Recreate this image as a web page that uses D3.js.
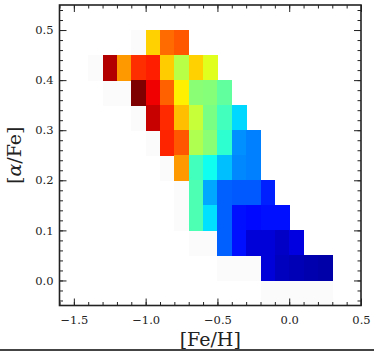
<!DOCTYPE html>
<html>
<head>
<meta charset="utf-8">
<script src="https://cdn.jsdelivr.net/npm/d3@7"></script>
<style>
  body { margin: 0; background: #fff; }
  text { font-family: "DejaVu Serif", "Liberation Serif", serif; fill: #222; }
</style>
</head>
<body>
<svg width="374" height="351"></svg>
<script>
// [Fe/H] bin left edges, [alpha/Fe] bin bottom edges
const fehBins = [-1.4, -1.3, -1.2, -1.1, -1.0, -0.9, -0.8, -0.7, -0.6, -0.5, -0.4, -0.3, -0.2, -0.1, 0.0, 0.1, 0.2];
const afeBins = [0.45, 0.40, 0.35, 0.30, 0.25, 0.20, 0.15, 0.10, 0.05, 0.00, -0.05];

// normalised colour value per bin (null = empty), rows follow afeBins
const binValues = [
  [null, null, null, null, 0.67, 0.77, 0.79, null, null, null, null, null, null, null, null, null, null],
  [null, 0.95, 0.725, 0.83, 0.845, 0.675, 0.555, 0.67, 0.595, null, null, null, null, null, null, null, null],
  [null, null, null, 1.0, 0.89, 0.78, 0.64, 0.51, 0.505, 0.47, null, null, null, null, null, null, null],
  [null, null, null, null, 0.93, 0.834, 0.6875, 0.57, 0.495, 0.44, 0.337, null, null, null, null, null, null],
  [null, null, null, null, null, 0.84, 0.79, 0.547, 0.51, 0.42, 0.266, 0.25, null, null, null, null, null],
  [null, null, null, null, null, null, 0.725, 0.44, 0.39, 0.3125, 0.258, 0.25, null, null, null, null, null],
  [null, null, null, null, null, null, null, 0.45, 0.29, 0.219, 0.211, 0.211, 0.156, null, null, null, null],
  [null, null, null, null, null, null, null, 0.45, 0.345, 0.219, 0.14, 0.133, 0.14, 0.14, null, null, null],
  [null, null, null, null, null, null, null, null, null, 0.219, 0.14, 0.087, 0.087, 0.07, 0.095, null, null],
  [null, null, null, null, null, null, null, null, null, null, null, null, 0.087, 0.0625, 0.055, 0.047, 0.04],
  [null, null, null, null, null, null, null, null, null, null, null, null, null, null, null, null, null]
];

// barely populated bins drawn almost white: [feh, afe]
const sparseBins = [
  [-1.1, 0.45], [-1.4, 0.40], [-1.3, 0.35], [-1.2, 0.35], [-1.1, 0.30], [-1.0, 0.25],
  [-0.9, 0.20], [-0.8, 0.15], [-0.8, 0.10], [-0.7, 0.05], [-0.6, 0.05],
  [-0.5, 0.00], [-0.4, 0.00], [-0.3, 0.00],
  [-0.2, -0.05], [-0.1, -0.05], [0.0, -0.05], [0.1, -0.05], [0.2, -0.05]
];

const xTicks = [-1.5, -1.0, -0.5, 0.0, 0.5];
const yTicks = [0.0, 0.1, 0.2, 0.3, 0.4, 0.5];

const svg = d3.select("svg");
const padL = 59.5, padR = 361, padT = 5, padB = 305.5;

const x = d3.scaleLinear().domain([-1.6, 0.5]).range([padL, padR]);
const y = d3.scaleLinear().domain([-0.05, 0.55]).range([padB, padT]);

// jet colormap
const jet = d3.scaleLinear()
  .domain([0, 0.125, 0.375, 0.625, 0.875, 1])
  .range(["#00007f", "#0000ff", "#00ffff", "#ffff00", "#ff0000", "#7f0000"])
  .clamp(true);

const cells = [];
afeBins.forEach((a, i) => {
  fehBins.forEach((f, j) => {
    const v = binValues[i][j];
    if (v !== null) cells.push({ f, a, v });
  });
});

const g = svg.append("g").attr("shape-rendering", "crispEdges");

g.selectAll("rect.sparse")
  .data(sparseBins)
  .join("rect")
  .attr("class", "sparse")
  .attr("x", d => x(d[0]))
  .attr("y", d => y(d[1] + 0.05))
  .attr("width", d => x(d[0] + 0.1) - x(d[0]) + 0.5)
  .attr("height", d => y(d[1]) - y(d[1] + 0.05) + 0.5)
  .attr("fill", "#fbfbfb");

g.selectAll("rect.cell")
  .data(cells)
  .join("rect")
  .attr("class", "cell")
  .attr("x", d => x(d.f))
  .attr("y", d => y(d.a + 0.05))
  .attr("width", d => x(d.f + 0.1) - x(d.f) + 0.5)
  .attr("height", d => y(d.a) - y(d.a + 0.05) + 0.5)
  .attr("fill", d => jet(d.v));

// axes, ticks pointing inward on all four sides
const xMinor = d3.range(-1.6, 0.51, 0.1).map(v => +v.toFixed(2));
const yMinor = d3.range(-0.04, 0.55, 0.02).map(v => +v.toFixed(2));
const fmt = d3.format(".1f");

const axB = d3.axisBottom(x).tickValues(xTicks).tickSize(-7).tickPadding(10).tickFormat(d => fmt(d).replace("-", "\u2212"));
const axBm = d3.axisBottom(x).tickValues(xMinor).tickSize(-3.5).tickFormat("");
const axT = d3.axisTop(x).tickValues(xTicks).tickSize(-7).tickFormat("");
const axTm = d3.axisTop(x).tickValues(xMinor).tickSize(-3.5).tickFormat("");
const axL = d3.axisLeft(y).tickValues(yTicks).tickSize(-7).tickPadding(6).tickFormat(fmt);
const axLm = d3.axisLeft(y).tickValues(yMinor).tickSize(-3.5).tickFormat("");
const axR = d3.axisRight(y).tickValues(yTicks).tickSize(-7).tickFormat("");
const axRm = d3.axisRight(y).tickValues(yMinor).tickSize(-3.5).tickFormat("");

function put(ax, tx, ty) {
  const a = svg.append("g").attr("transform", `translate(${tx},${ty})`).call(ax);
  a.select(".domain").remove();
  a.selectAll("line").attr("stroke", "#222").attr("stroke-width", 1);
  a.selectAll("text").attr("font-size", 11.5).attr("font-family", "DejaVu Serif, serif").attr("fill", "#333");
  return a;
}
put(axB, 0, padB); put(axBm, 0, padB);
put(axT, 0, padT); put(axTm, 0, padT);
put(axL, padL, 0); put(axLm, padL, 0);
put(axR, padR, 0); put(axRm, padR, 0);

svg.append("rect")
  .attr("x", padL).attr("y", padT)
  .attr("width", padR - padL).attr("height", padB - padT)
  .attr("fill", "none").attr("stroke", "#222").attr("stroke-width", 1.6);

// axis labels
svg.append("text")
  .attr("x", (padL + padR) / 2).attr("y", 346)
  .attr("text-anchor", "middle")
  .attr("font-size", 19)
  .text("[Fe/H]");

const yl = svg.append("text")
  .attr("transform", `translate(21,${(padT + padB) / 2}) rotate(-90)`)
  .attr("text-anchor", "middle")
  .attr("font-size", 19);
yl.append("tspan").text("[");
yl.append("tspan").attr("font-style", "italic").text("\u03b1");
yl.append("tspan").text("/Fe]");

// dark strip at the bottom edge of the cropped figure
svg.append("rect").attr("x", 0).attr("y", 349).attr("width", 374).attr("height", 2).attr("fill", "#444");
</script>
</body>
</html>
